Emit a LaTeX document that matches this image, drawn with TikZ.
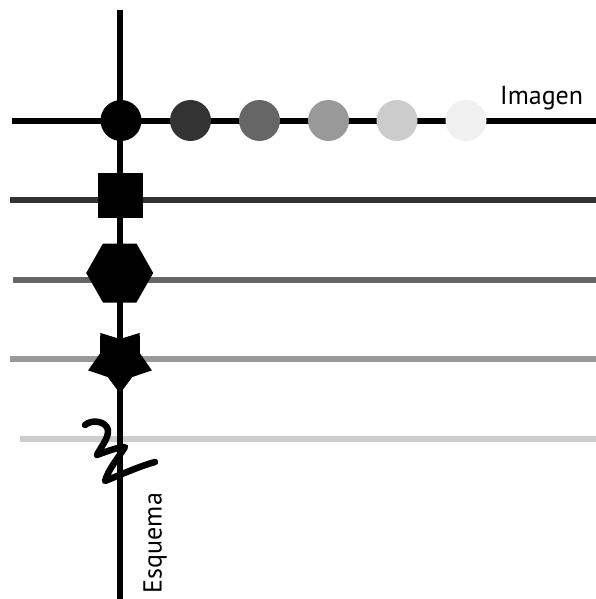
\documentclass[tikz,border=0pt]{standalone}
\usepackage{fontspec}
\setmainfont{PT Sans}
\definecolor{g3}{HTML}{333333}
\definecolor{g6}{HTML}{666666}
\definecolor{g9}{HTML}{999999}
\definecolor{gc}{HTML}{CCCCCC}
\definecolor{gf}{HTML}{F0F0F0}
\begin{document}
\begin{tikzpicture}[x=1pt,y=-1pt,
  hline/.style={line width=6.5pt},
  vline/.style={line width=6.5pt, black},
  scribble/.style={line width=6.5pt, line cap=round, line join=round, black},
  lbl/.style={inner sep=0pt, font=\fontsize{26}{31}\selectfont}]
\useasboundingbox (0,0) rectangle (596,599);
% horizontal lines
\draw[hline, black] (12,121) -- (596,121);
\draw[hline, g3] (10,200) -- (596,200);
\draw[hline, g6] (13,280) -- (596,280);
\draw[hline, g9] (10,359) -- (596,359);
\draw[hline, gc] (20,439) -- (596,439);
% vertical line
\draw[vline] (120,10) -- (120,599);
% circles
\fill[black] (121,120.5) circle[radius=20.5pt];
\fill[g3] (190.5,120.5) circle[radius=20.5pt];
\fill[g6] (259.5,120.5) circle[radius=20.5pt];
\fill[g9] (328.5,120.5) circle[radius=20.5pt];
\fill[gc] (397,120.5) circle[radius=20.5pt];
\fill[gf] (466,120.5) circle[radius=20.5pt];
% square
\fill[black] (98.3,173.3) rectangle (142.7,217.7);
% hexagon
\fill[black] (153.2,273) -- (136.45,243.5) -- (102.95,243.5) -- (86.2,273) -- (102.95,302.5) -- (136.45,302.5) -- cycle;
% star
\fill[black] (120,393.5) -- (132.3,377) -- (151.9,370.4) -- (140,353.5) -- (139.7,332.9) -- (120,339) -- (100.3,332.9) -- (100,353.5) -- (88.1,370.4) -- (107.7,377) -- cycle;
% scribble
\draw[scribble] (85,425) .. controls (92,419) and (106,421) .. (108,430) .. controls (109,438) and (100,448) .. (97,455) .. controls (105,452) and (118,447) .. (125,447) .. controls (118,458) and (108,470) .. (105,481) .. controls (120,475) and (140,466) .. (155,462);
% labels
\node[lbl, anchor=base west] (imagen) at (500,104.3) {Imagen};
\node[lbl, anchor=base west, rotate=90] (esquema) at (161.7,593.3) {Esquema};
\end{tikzpicture}
\end{document}
